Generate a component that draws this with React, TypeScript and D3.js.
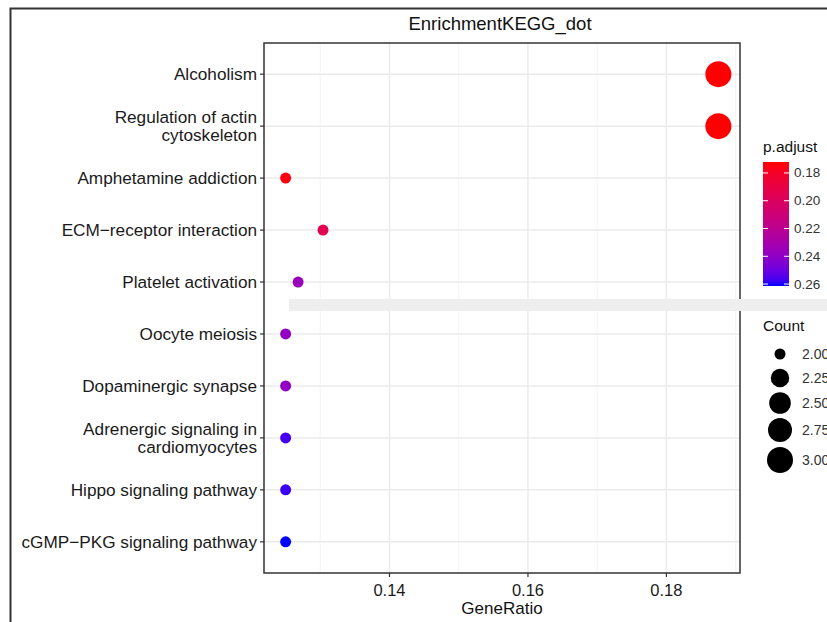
import React from "react";
import * as d3 from "d3";

const categories: string[][] = [
  ["Alcoholism"],
  ["Regulation of actin", "cytoskeleton"],
  ["Amphetamine addiction"],
  ["ECM\u2212receptor interaction"],
  ["Platelet activation"],
  ["Oocyte meiosis"],
  ["Dopaminergic synapse"],
  ["Adrenergic signaling in", "cardiomyocytes"],
  ["Hippo signaling pathway"],
  ["cGMP\u2212PKG signaling pathway"],
];
const geneRatio = [0.1875, 0.1875, 0.125, 0.1304, 0.1268, 0.125, 0.125, 0.125, 0.125, 0.125];
const pAdjust = [0.1721, 0.1721, 0.1745, 0.195, 0.236, 0.238, 0.239, 0.257, 0.258, 0.2614];
const counts = [3, 3, 2, 2, 2, 2, 2, 2, 2, 2];
const xTicks = [0.14, 0.16, 0.18];
const xMinor = [0.13, 0.15, 0.17, 0.19];
const pTicks = [0.18, 0.2, 0.22, 0.24, 0.26];
const countTicks = [2.0, 2.25, 2.5, 2.75, 3.0];

const FONT = "'Liberation Sans', Arial, sans-serif";

export default function App() {
  const panel = { left: 264, right: 740, top: 43, bottom: 573 };
  const xMin = d3.min(geneRatio)!;
  const xMax = d3.max(geneRatio)!;
  const xPad = (xMax - xMin) * 0.05;
  const x = d3.scaleLinear().domain([xMin - xPad, xMax + xPad]).range([panel.left, panel.right]);
  const idx = categories.map((_, i) => i);
  const y = d3
    .scalePoint<number>()
    .domain(idx)
    .range([panel.top, panel.bottom])
    .padding(0.6);

  const pMin = d3.min(pAdjust)!;
  const pMax = d3.max(pAdjust)!;
  const color = d3
    .scaleLinear<string>()
    .domain([pMin, pMax])
    .range(["#FF0000", "#0000FF"])
    .interpolate(d3.interpolateLab);

  const cMin = d3.min(countTicks)!;
  const cMax = d3.max(countTicks)!;
  const norm = d3.scaleLinear().domain([cMin, cMax]).range([0, 1]);
  const rad = d3.scaleSqrt().domain([0, 1]).range([5.5, 13]);
  const r = (c: number) => rad(norm(c));

  // colorbar
  const cb = { x: 763, w: 26, top: 162, bottom: 286 };
  const cbY = d3.scaleLinear().domain([pMin, pMax]).range([cb.top, cb.bottom]);
  const stops = d3.range(0, 1.0001, 0.05);

  const legendY = [354, 378, 403, 430, 460];

  return (
    <svg
      width={827}
      height={622}
      style={{ position: "absolute", left: 0, top: 0, background: "#fff" }}
      fontFamily={FONT}
    >
      <defs>
        <linearGradient id="cbg" x1="0" y1="0" x2="0" y2="1">
          {stops.map((s) => (
            <stop key={s} offset={s} stopColor={color(pMin + s * (pMax - pMin))} />
          ))}
        </linearGradient>
      </defs>
      <rect x={0} y={0} width={827} height={622} fill="#fff" />
      {/* outer frame */}
      <path d="M10.5,622 L10.5,8.5 L827,8.5" fill="none" stroke="#333" strokeWidth={2} />

      {/* title */}
      <text x={500} y={30} textAnchor="middle" fontSize={18.5} fill="#111">
        EnrichmentKEGG_dot
      </text>

      {/* grid */}
      {xMinor.map((t) => (
        <line key={"mn" + t} x1={x(t)} x2={x(t)} y1={panel.top} y2={panel.bottom} stroke="#F3F3F3" strokeWidth={1} />
      ))}
      {xTicks.map((t) => (
        <line key={"mj" + t} x1={x(t)} x2={x(t)} y1={panel.top} y2={panel.bottom} stroke="#EBEBEB" strokeWidth={1.5} />
      ))}
      {idx.map((i) => (
        <line key={"h" + i} x1={panel.left} x2={panel.right} y1={y(i)!} y2={y(i)!} stroke="#EBEBEB" strokeWidth={1.5} />
      ))}

      {/* dots */}
      {idx.map((i) => (
        <circle key={"c" + i} cx={x(geneRatio[i])} cy={y(i)!} r={r(counts[i])} fill={color(pAdjust[i])} />
      ))}

      {/* panel border */}
      <rect
        x={panel.left}
        y={panel.top}
        width={panel.right - panel.left}
        height={panel.bottom - panel.top}
        fill="none"
        stroke="#333"
        strokeWidth={1.5}
      />

      {/* y axis */}
      {idx.map((i) => {
        const lines = categories[i];
        const yy = y(i)!;
        const lh = 18;
        const start = yy - ((lines.length - 1) * lh) / 2;
        return (
          <g key={"yl" + i}>
            <line x1={panel.left - 4} x2={panel.left} y1={yy} y2={yy} stroke="#333" strokeWidth={1.2} />
            {lines.map((l, k) => (
              <text key={k} x={257} y={start + k * lh + 6} textAnchor="end" fontSize={17.2} fill="#1a1a1a">
                {l}
              </text>
            ))}
          </g>
        );
      })}

      {/* x axis */}
      {xTicks.map((t) => (
        <g key={"xt" + t}>
          <line x1={x(t)} x2={x(t)} y1={panel.bottom} y2={panel.bottom + 4} stroke="#333" strokeWidth={1.2} />
          <text x={x(t)} y={596} textAnchor="middle" fontSize={16.5} fill="#1a1a1a">
            {d3.format(".2f")(t)}
          </text>
        </g>
      ))}
      <text x={(panel.left + panel.right) / 2} y={614} textAnchor="middle" fontSize={17} fill="#111">
        GeneRatio
      </text>

      {/* grey band artifact */}
      <rect x={289} y={299} width={538} height={12} fill="#EEEEEE" />

      {/* colour legend */}
      <text x={763} y={152} fontSize={15.5} fill="#111">
        p.adjust
      </text>
      <rect x={cb.x} y={cb.top} width={cb.w} height={cb.bottom - cb.top} fill="url(#cbg)" />
      {pTicks.map((t) => (
        <g key={"pt" + t}>
          <line x1={cb.x} x2={cb.x + 5} y1={cbY(t)} y2={cbY(t)} stroke="#fff" strokeWidth={1} />
          <line x1={cb.x + cb.w - 5} x2={cb.x + cb.w} y1={cbY(t)} y2={cbY(t)} stroke="#fff" strokeWidth={1} />
          <text x={794} y={cbY(t) + 4.5} fontSize={13.5} fill="#333">
            {d3.format(".2f")(t)}
          </text>
        </g>
      ))}

      {/* size legend */}
      <text x={763} y={331} fontSize={15.5} fill="#111">
        Count
      </text>
      {countTicks.map((c, k) => (
        <g key={"ct" + c}>
          <circle cx={780} cy={legendY[k]} r={r(c)} fill="#000" />
          <text x={802} y={legendY[k] + 5} fontSize={14} fill="#333">
            {d3.format(".2f")(c)}
          </text>
        </g>
      ))}
    </svg>
  );
}
